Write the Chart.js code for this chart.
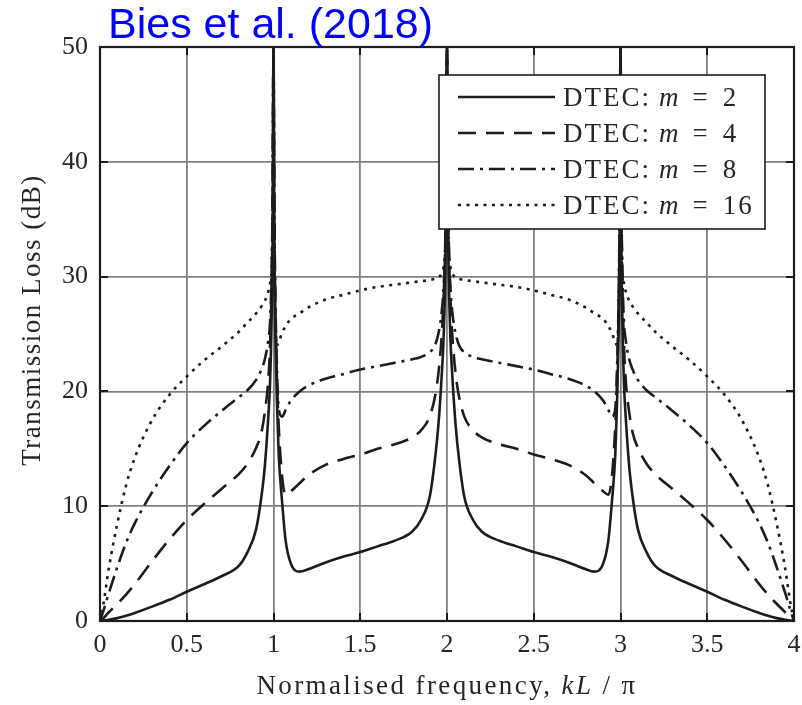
<!DOCTYPE html>
<html>
<head>
<meta charset="utf-8">
<script src="https://cdn.jsdelivr.net/npm/chart.js@4.4.1/dist/chart.umd.min.js"></script>
<style>
  html, body { margin: 0; padding: 0; background: #ffffff; }
  #wrap { width: 802px; height: 705px; position: relative; }
</style>
</head>
<body>
<div id="wrap"><canvas id="c" width="802" height="705"></canvas></div>
<script>
// Normalised frequency kL/pi (dense near the resonances at 1, 2 and 3)
const freq = [
  0, 0.02, 0.05, 0.1, 0.15, 0.2, 0.3, 0.4, 0.5, 0.6, 0.7, 0.8, 0.85, 0.9, 0.93, 0.95, 0.97, 0.98, 0.99, 0.995,
  1.0,
  1.005, 1.01, 1.02, 1.03, 1.05, 1.07, 1.1, 1.15, 1.2, 1.3, 1.4, 1.5, 1.6, 1.7, 1.8, 1.85, 1.9, 1.93, 1.95, 1.97, 1.98, 1.99, 1.995,
  2.0,
  2.005, 2.01, 2.02, 2.03, 2.05, 2.07, 2.1, 2.15, 2.2, 2.3, 2.4, 2.5, 2.6, 2.7, 2.8, 2.85, 2.9, 2.93, 2.95, 2.97, 2.98, 2.99, 2.995,
  3.0,
  3.005, 3.01, 3.02, 3.03, 3.05, 3.07, 3.1, 3.15, 3.2, 3.3, 3.4, 3.5, 3.6, 3.7, 3.8, 3.85, 3.9, 3.95, 3.98, 4.0
];

// Transmission loss (dB) for each number of chambers m
const tlM2 = [
  0, 0.03, 0.1, 0.25, 0.45, 0.7, 1.25, 1.85, 2.55, 3.2, 3.9, 4.8, 6.0, 8.0, 10.8, 13.5, 17.8, 20.7, 27, 33,
  50,
  33, 26, 19, 14.5, 10.3, 7.0, 5.0, 4.3, 4.5, 5.1, 5.6, 6.0, 6.5, 7.0, 7.8, 8.8, 10.8, 14.0, 17.0, 21.5, 24.5, 30, 36,
  50,
  36, 30, 24.5, 21.5, 17.0, 14.0, 10.8, 8.8, 7.8, 7.0, 6.5, 6.0, 5.6, 5.1, 4.5, 4.3, 5.0, 7.0, 10.3, 14.5, 19, 26, 33,
  50,
  33, 27, 20.7, 17.8, 13.5, 10.8, 8.0, 6.0, 4.8, 3.9, 3.2, 2.55, 1.85, 1.25, 0.7, 0.45, 0.25, 0.1, 0.03, 0
];
const tlM4 = [
  0, 0.25, 0.75, 1.5, 2.3, 3.2, 5.2, 7.1, 8.8, 10.2, 11.5, 12.8, 13.7, 15.1, 16.4, 18.2, 21, 24, 30, 36,
  50,
  35, 28, 21, 17, 12.5, 11.0, 11.3, 12.0, 12.7, 13.6, 14.1, 14.5, 15.0, 15.4, 16.0, 16.6, 17.8, 19.5, 21.5, 25, 28, 33, 38,
  50,
  38, 33, 28, 25, 21.5, 19.5, 17.8, 16.6, 16.0, 15.4, 15.0, 14.5, 14.1, 13.6, 12.7, 12.0, 11.3, 11.0, 12.5, 17, 21, 28, 35,
  50,
  36, 30, 24, 21, 18.2, 16.4, 15.1, 13.7, 12.8, 11.5, 10.2, 8.8, 7.1, 5.2, 3.2, 2.3, 1.5, 0.75, 0.25, 0
];
const tlM8 = [
  0, 0.9, 2.4, 4.7, 6.8, 8.5, 11.2, 13.5, 15.5, 17.0, 18.3, 19.5, 20.1, 21.0, 21.9, 22.8, 24.5, 26, 31, 37,
  50,
  36, 29, 22, 18.5, 17.8, 18.4, 19.2, 20.0, 20.5, 21.1, 21.5, 21.9, 22.2, 22.5, 22.8, 23.0, 23.4, 24.0, 25, 27, 29, 33, 39,
  50,
  39, 33, 29, 27, 25, 24.0, 23.4, 23.0, 22.8, 22.5, 22.2, 21.9, 21.5, 21.1, 20.5, 20.0, 19.2, 18.4, 17.8, 18.5, 22, 29, 36,
  50,
  37, 31, 26, 24.5, 22.8, 21.9, 21.0, 20.1, 19.5, 18.3, 17.0, 15.5, 13.5, 11.2, 8.5, 6.8, 4.7, 2.4, 0.9, 0
];
const tlM16 = [
  0, 1.5, 4.5, 8.5, 11.8, 14.2, 17.5, 19.7, 21.3, 22.7, 23.9, 25.2, 26.0, 26.8, 27.4, 27.9, 28.7, 29.4, 31, 36,
  50,
  33, 27, 24, 24.3, 25.1, 25.7, 26.3, 26.8, 27.3, 28.0, 28.4, 28.8, 29.1, 29.3, 29.5, 29.6, 29.7, 29.8, 29.9, 30.3, 30.8, 32.5, 37,
  50,
  37, 32.5, 30.8, 30.3, 29.9, 29.8, 29.7, 29.6, 29.5, 29.3, 29.1, 28.8, 28.4, 28.0, 27.3, 26.8, 26.3, 25.7, 25.1, 24.3, 24, 27, 33,
  50,
  36, 31, 29.4, 28.7, 27.9, 27.4, 26.8, 26.0, 25.2, 23.9, 22.7, 21.3, 19.7, 17.5, 14.2, 11.8, 8.5, 4.5, 1.5, 0
];

const chamberCounts = ['2', '4', '8', '16'];
const xTickValues = [0, 0.5, 1, 1.5, 2, 2.5, 3, 3.5, 4];
const xTickLabels = ['0', '0.5', '1', '1.5', '2', '2.5', '3', '3.5', '4'];
const yTickValues = [0, 10, 20, 30, 40, 50];
const yTickLabels = ['0', '10', '20', '30', '40', '50'];

const seriesValues = [tlM2, tlM4, tlM8, tlM16];
const seriesDash = [[], [18, 10], [16, 6, 3, 6], [3, 5.5]];

const SERIF = '"Liberation Serif", "Times New Roman", serif';
const INK = '#1c1c1c';
const TEXT = '#262626';

const datasets = seriesValues.map((vals, i) => ({
  label: 'DTEC: m = ' + chamberCounts[i],
  data: freq.map((f, j) => ({ x: f, y: vals[j] })),
  borderColor: INK,
  borderWidth: 2.6,
  borderDash: seriesDash[i],
  borderCapStyle: 'butt',
  pointRadius: 0,
  fill: false,
  cubicInterpolationMode: 'monotone',
  m: chamberCounts[i]
}));

function drawSpaced(ctx, text, x, y, spacing) {
  ctx.letterSpacing = spacing + 'px';
  ctx.fillText(text, x, y);
  const w = ctx.measureText(text).width;
  ctx.letterSpacing = '0px';
  return w;
}

const decorations = {
  id: 'decorations',
  afterDatasetsDraw(chart) {
    const ctx = chart.ctx;
    const a = chart.chartArea;
    const xs = chart.scales.x, ys = chart.scales.y;
    ctx.save();

    // inward tick marks on all four sides
    ctx.strokeStyle = INK;
    ctx.lineWidth = 2;
    ctx.beginPath();
    xTickValues.forEach(v => {
      const px = Math.round(xs.getPixelForValue(v));
      ctx.moveTo(px, a.bottom); ctx.lineTo(px, a.bottom - 8);
      ctx.moveTo(px, a.top); ctx.lineTo(px, a.top + 8);
    });
    yTickValues.forEach(v => {
      const py = Math.round(ys.getPixelForValue(v));
      ctx.moveTo(a.left, py); ctx.lineTo(a.left + 8, py);
      ctx.moveTo(a.right, py); ctx.lineTo(a.right - 8, py);
    });
    ctx.stroke();

    // plot frame
    ctx.lineWidth = 2.2;
    ctx.strokeRect(a.left, a.top, a.right - a.left, a.bottom - a.top);

    // legend box
    const bx = 439, by = 75, bw = 326, bh = 154;
    ctx.fillStyle = '#ffffff';
    ctx.fillRect(bx, by, bw, bh);
    ctx.lineWidth = 1.6;
    ctx.strokeStyle = INK;
    ctx.strokeRect(bx, by, bw, bh);
    chart.data.datasets.forEach((ds, i) => {
      const cy = 97 + i * 36;
      ctx.save();
      ctx.strokeStyle = ds.borderColor;
      ctx.lineWidth = ds.borderWidth;
      ctx.setLineDash(ds.borderDash);
      ctx.beginPath();
      ctx.moveTo(458, cy); ctx.lineTo(555, cy);
      ctx.stroke();
      ctx.restore();
      ctx.fillStyle = TEXT;
      ctx.textAlign = 'left';
      ctx.textBaseline = 'alphabetic';
      const base = cy + 9;
      let x = 563;
      ctx.font = '27px ' + SERIF;
      x += drawSpaced(ctx, 'DTEC:', x, base, 2) + 8;
      ctx.font = 'italic 27px ' + SERIF;
      x += drawSpaced(ctx, 'm', x, base, 0) + 14;
      ctx.font = '27px ' + SERIF;
      x += drawSpaced(ctx, '=', x, base, 0) + 15;
      drawSpaced(ctx, ds.m, x, base, 2);
    });

    // x axis title with italic kL
    ctx.fillStyle = TEXT;
    ctx.textBaseline = 'alphabetic';
    ctx.textAlign = 'left';
    const parts = [
      ['Normalised frequency, ', '27px ' + SERIF],
      ['kL', 'italic 27px ' + SERIF],
      [' / ', '27px ' + SERIF],
      ['\u03C0', '27px ' + SERIF]
    ];
    const sp = 2.4;
    let total = 0;
    parts.forEach(p => {
      ctx.font = p[1];
      ctx.letterSpacing = sp + 'px';
      total += ctx.measureText(p[0]).width;
      ctx.letterSpacing = '0px';
    });
    let tx = 447 - total / 2;
    parts.forEach(p => {
      ctx.font = p[1];
      tx += drawSpaced(ctx, p[0], tx, 694, sp);
    });

    // y axis title
    ctx.save();
    ctx.translate(40, 320);
    ctx.rotate(-Math.PI / 2);
    ctx.font = '27px ' + SERIF;
    ctx.textAlign = 'center';
    ctx.letterSpacing = '1.5px';
    ctx.fillText('Transmission Loss (dB)', 0, 0);
    ctx.letterSpacing = '0px';
    ctx.restore();

    // source caption
    ctx.font = '43px "Liberation Sans", Arial, sans-serif';
    ctx.fillStyle = '#0000ff';
    ctx.textAlign = 'left';
    ctx.fillText('Bies et al. (2018)', 108, 38);

    ctx.restore();
  }
};

new Chart(document.getElementById('c'), {
  type: 'line',
  data: { datasets },
  options: {
    responsive: false,
    animation: false,
    devicePixelRatio: 1,
    layout: { padding: { top: 47, right: 8, left: 0, bottom: 0 } },
    plugins: { legend: { display: false }, tooltip: { enabled: false }, title: { display: false } },
    scales: {
      x: {
        type: 'linear',
        min: 0, max: 4,
        afterFit(scale) { scale.height = 84; scale.paddingLeft = 0; scale.paddingRight = 0; },
        afterBuildTicks(scale) { scale.ticks = xTickValues.map(v => ({ value: v })); },
        grid: { color: '#808080', lineWidth: 1.8, drawTicks: false },
        border: { display: false },
        ticks: {
          padding: 9, color: TEXT, font: { family: SERIF, size: 26 }, maxRotation: 0, autoSkip: false,
          callback: (v, i) => xTickLabels[i]
        }
      },
      y: {
        type: 'linear',
        min: 0, max: 50,
        afterFit(scale) { scale.width = 100; scale.paddingTop = 0; scale.paddingBottom = 0; },
        afterBuildTicks(scale) { scale.ticks = yTickValues.map(v => ({ value: v })); },
        grid: { color: '#808080', lineWidth: 1.8, drawTicks: false },
        border: { display: false },
        ticks: {
          padding: 12, color: TEXT, font: { family: SERIF, size: 26 },
          callback: (v, i) => yTickLabels[i]
        }
      }
    }
  },
  plugins: [decorations]
});
</script>
</body>
</html>
